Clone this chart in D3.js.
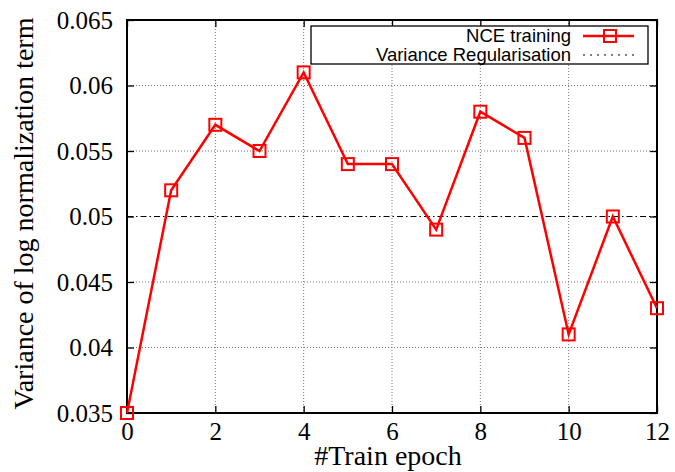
<!DOCTYPE html>
<meta charset="utf-8">
<style>
  body { margin: 0; background: white; }
</style>
<script src="https://d3js.org/d3.v7.min.js"></script>
<div id="chart"></div>
<script>

// data
var epochs = [0, 1, 2, 3, 4, 5, 6, 7, 8, 9, 10, 11, 12];
var nceVariance = [0.035, 0.052, 0.057, 0.055, 0.061, 0.054, 0.054, 0.049, 0.058, 0.056, 0.041, 0.050, 0.043];
var regularisationLevel = 0.05;
var xTicks = [0, 2, 4, 6, 8, 10, 12];
var yTicks = [0.035, 0.04, 0.045, 0.05, 0.055, 0.06, 0.065];

var W = 675, H = 472;
var margin = {top: 20, right: 18, bottom: 59, left: 127},
    width = W - margin.left - margin.right,
    height = H - margin.top - margin.bottom;

var serif = "'Liberation Serif', 'Times New Roman', serif";
var sans = "'Liberation Sans', Arial, sans-serif";

var svg = d3.select("#chart").append("svg")
    .attr("width", W)
    .attr("height", H)
  .append("g")
    .attr("transform", "translate(" + margin.left + "," + margin.top + ")");

var x = d3.scaleLinear().domain([0, 12]).range([0, width]);
var y = d3.scaleLinear().domain([0.035, 0.065]).range([height, 0]);

// grid (dotted grey)
svg.append("g").selectAll("line")
  .data(xTicks.slice(1, -1))
  .enter().append("line")
    .attr("x1", function(d) { return x(d); })
    .attr("x2", function(d) { return x(d); })
    .attr("y1", 0).attr("y2", height)
    .attr("stroke", "#777").attr("stroke-width", 1).attr("stroke-dasharray", "1,2");
svg.append("g").selectAll("line")
  .data(yTicks.slice(1, -1).filter(function(d) { return d !== regularisationLevel; }))
  .enter().append("line")
    .attr("x1", 0).attr("x2", width)
    .attr("y1", function(d) { return y(d); })
    .attr("y2", function(d) { return y(d); })
    .attr("stroke", "#777").attr("stroke-width", 1).attr("stroke-dasharray", "1,2");

// variance regularisation line (dash-dot black)
svg.append("line")
  .attr("x1", 0).attr("x2", width)
  .attr("y1", y(regularisationLevel)).attr("y2", y(regularisationLevel))
  .attr("stroke", "black").attr("stroke-width", 1.2)
  .attr("stroke-dasharray", "6,3,1.5,3");

// axes, ticks pointing inward on all sides
var fmtY = function(d) { return String(+d.toFixed(3)); };
svg.append("g")
  .attr("transform", "translate(0," + height + ")")
  .call(d3.axisBottom(x).tickValues(xTicks).tickSizeInner(-7).tickSizeOuter(0).tickPadding(9))
  .call(function(g) { g.select(".domain").remove(); })
  .selectAll("text")
    .style("font-family", serif).style("font-size", "25px").attr("fill", "black");
svg.append("g")
  .call(d3.axisLeft(y).tickValues(yTicks).tickFormat(fmtY).tickSizeInner(-7).tickSizeOuter(0).tickPadding(14))
  .call(function(g) { g.select(".domain").remove(); })
  .selectAll("text")
    .style("font-family", serif).style("font-size", "25px").attr("fill", "black").attr("dy", "0.33em");
svg.append("g")
  .call(d3.axisTop(x).tickValues(xTicks).tickFormat("").tickSizeInner(-7).tickSizeOuter(0))
  .call(function(g) { g.select(".domain").remove(); });
svg.append("g")
  .attr("transform", "translate(" + width + ",0)")
  .call(d3.axisRight(y).tickValues(yTicks).tickFormat("").tickSizeInner(-7).tickSizeOuter(0))
  .call(function(g) { g.select(".domain").remove(); });
svg.selectAll(".tick line").attr("stroke", "black").attr("stroke-width", 1.3);

// frame
svg.append("rect")
  .attr("width", width).attr("height", height)
  .attr("fill", "none").attr("stroke", "black").attr("stroke-width", 2);

// NCE training series
var line = d3.line()
  .x(function(d, i) { return x(epochs[i]); })
  .y(function(d) { return y(d); });
svg.append("path")
  .datum(nceVariance)
  .attr("d", line)
  .attr("fill", "none").attr("stroke", "red").attr("stroke-width", 2.5);
svg.selectAll(".pt")
  .data(nceVariance)
  .enter().append("rect")
    .attr("class", "pt")
    .attr("x", function(d, i) { return x(epochs[i]) - 6; })
    .attr("y", function(d) { return y(d) - 6; })
    .attr("width", 12).attr("height", 12)
    .attr("fill", "none").attr("stroke", "red").attr("stroke-width", 2);

// legend
var lg = svg.append("g").attr("transform", "translate(" + (311 - margin.left) + "," + (26 - margin.top) + ")");
lg.append("rect")
  .attr("width", 337).attr("height", 38)
  .attr("fill", "white").attr("stroke", "black").attr("stroke-width", 1.3);
lg.append("text")
  .attr("x", 260).attr("y", 16)
  .attr("text-anchor", "end")
  .style("font-family", sans).style("font-size", "18.5px")
  .text("NCE training");
lg.append("line")
  .attr("x1", 272).attr("x2", 323).attr("y1", 10).attr("y2", 10)
  .attr("stroke", "red").attr("stroke-width", 2.5);
lg.append("rect")
  .attr("x", 293).attr("y", 4).attr("width", 12).attr("height", 12)
  .attr("fill", "none").attr("stroke", "red").attr("stroke-width", 2);
lg.append("text")
  .attr("x", 260).attr("y", 35)
  .attr("text-anchor", "end")
  .style("font-family", sans).style("font-size", "18.5px")
  .text("Variance Regularisation");
lg.append("line")
  .attr("x1", 272).attr("x2", 323).attr("y1", 29).attr("y2", 29)
  .attr("stroke", "black").attr("stroke-width", 1.2).attr("stroke-dasharray", "2,5");

// axis titles
svg.append("text")
  .attr("x", width / 2 - 4).attr("y", height + 52)
  .attr("text-anchor", "middle")
  .style("font-family", serif).style("font-size", "28px")
  .text("#Train epoch");
svg.append("text")
  .attr("transform", "rotate(-90)")
  .attr("x", -height / 2 + 3).attr("y", -94)
  .attr("text-anchor", "middle")
  .style("font-family", serif).style("font-size", "28px")
  .text("Variance of log normalization term");

</script>
